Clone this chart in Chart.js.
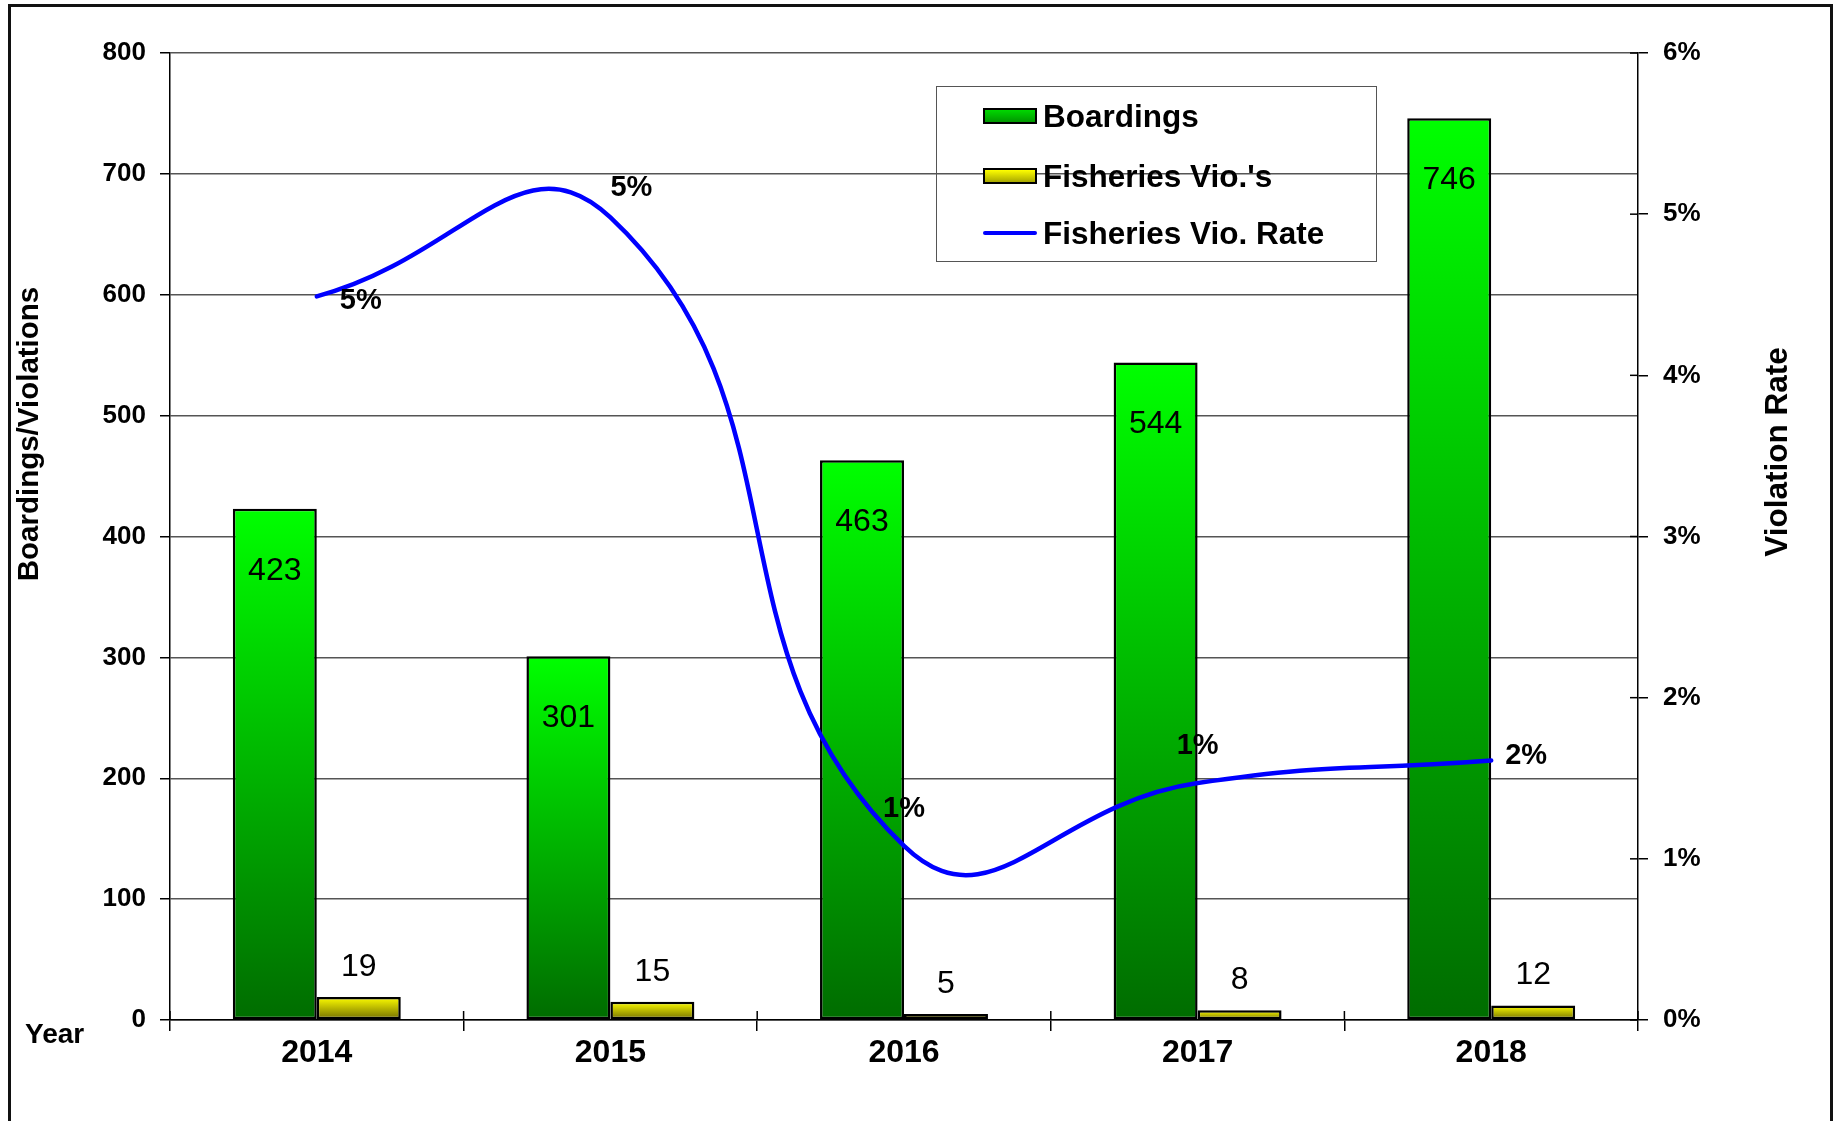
<!DOCTYPE html>
<html>
<head>
<meta charset="utf-8">
<script src="https://cdn.jsdelivr.net/npm/chart.js@4/dist/chart.umd.min.js"></script>
<style>
  html, body { margin:0; padding:0; background:#fff; overflow:hidden; }
  body { width:1833px; height:1121px; position:relative; font-family:"Liberation Sans", Arial, sans-serif; }
  #frame { position:absolute; left:8px; top:4px; width:1825px; height:1200px; border:3px solid #111; box-sizing:border-box; }
  #wrap { position:absolute; left:0; top:0; width:1833px; height:1121px; }
  #legend { position:absolute; left:936px; top:86px; width:441px; height:176px; border:1.5px solid #555; box-sizing:border-box; }
  .row { position:absolute; left:46px; height:34px; display:flex; align-items:center; }
  .mk { width:54px; height:16px; box-sizing:border-box; border:2px solid #000; margin-right:6px; }
  .ln { width:54px; height:4px; background:#0000ff; margin-right:6px; border-radius:2px; }
  .tx { font-weight:bold; font-size:31.5px; color:#000; white-space:nowrap; }
</style>
</head>
<body>
<div id="wrap"><canvas id="c" width="1833" height="1121"></canvas></div>
<div id="frame"></div>
<div id="legend">
  <div class="row" style="top:12px"><div class="mk" style="background:linear-gradient(#00d800,#009800)"></div><span class="tx">Boardings</span></div>
  <div class="row" style="top:72px"><div class="mk" style="background:linear-gradient(#ffff00,#a8a800)"></div><span class="tx">Fisheries Vio.'s</span></div>
  <div class="row" style="top:129px"><div class="ln"></div><span class="tx">Fisheries Vio. Rate</span></div>
</div>
<script>
const years = ['2014', '2015', '2016', '2017', '2018'];
const boardings = [423, 301, 463, 544, 746];
const violations = [19, 15, 5, 8, 12];
const rates = [4.49, 4.98, 1.08, 1.47, 1.61];
const rateLabels = ['5%', '5%', '1%', '1%', '2%'];
const leftMax = 800;
const leftStep = 100;
const rightMax = 6;
const rightStep = 1;

const FONT = '"Liberation Sans", Arial, sans-serif';

function barGrad(topColor, bottomColor) {
  return function(ctx) {
    const chart = ctx.chart;
    if (!chart.chartArea || ctx.type !== 'data' || !chart.scales.y) return topColor;
    const ys = chart.scales.y;
    const yTop = ys.getPixelForValue(ctx.parsed ? ctx.parsed.y : ctx.raw);
    const yBase = ys.getPixelForValue(0);
    if (!isFinite(yTop) || !isFinite(yBase) || yBase - yTop < 1) return topColor;
    const g = chart.ctx.createLinearGradient(0, yTop, 0, yBase);
    g.addColorStop(0, topColor);
    g.addColorStop(1, bottomColor);
    return g;
  };
}

const labelOffsets = [[44, 5], [21, -29], [0, -37], [0, -37], [35, -5]];

const overlay = {
  id: 'overlay',
  afterDraw(chart) {
    const c = chart.ctx;
    const xs = chart.scales.x, ys = chart.scales.y, y1 = chart.scales.y1;
    c.save();
    c.strokeStyle = '#000';
    c.lineWidth = 1.5;
    const n = years.length;
    for (let i = 0; i <= n; i++) {
      const px = xs.left + i * xs.width / n;
      c.beginPath(); c.moveTo(px, xs.top - 9); c.lineTo(px, xs.top); c.stroke();
    }
    for (let v = 0; v <= rightMax; v += rightStep) {
      const py = y1.getPixelForValue(v);
      c.beginPath(); c.moveTo(y1.left - 8, py); c.lineTo(y1.left, py); c.stroke();
    }
    c.fillStyle = '#000';
    c.textAlign = 'center';
    c.textBaseline = 'middle';
    c.font = '32px ' + FONT;
    const m0 = chart.getDatasetMeta(0), m1 = chart.getDatasetMeta(1), m2 = chart.getDatasetMeta(2);
    m0.data.forEach((el, i) => { c.fillText(String(boardings[i]), el.x, el.y + 62); });
    m1.data.forEach((el, i) => { c.fillText(String(violations[i]), el.x, el.y - 30); });
    c.font = 'bold 29px ' + FONT;
    m2.data.forEach((el, i) => { c.fillText(rateLabels[i], el.x + labelOffsets[i][0], el.y + labelOffsets[i][1]); });
    c.font = 'bold 29.5px ' + FONT;
    c.save(); c.translate(30, 434); c.rotate(-Math.PI / 2); c.fillText('Boardings/Violations', 0, 0); c.restore();
    c.font = 'bold 31.5px ' + FONT;
    c.save(); c.translate(1778, 452); c.rotate(-Math.PI / 2); c.fillText('Violation Rate', 0, 0); c.restore();
    c.font = 'bold 28px ' + FONT;
    c.textAlign = 'left';
    c.fillText('Year', 25, 1035);
    c.restore();
  }
};

new Chart(document.getElementById('c'), {
  type: 'bar',
  data: {
    labels: years,
    datasets: [
      {
        label: 'Boardings', data: boardings, yAxisID: 'y', order: 1,
        backgroundColor: barGrad('#00ff00', '#006c00'),
        borderColor: '#000', borderWidth: 2.5, borderSkipped: false,
        categoryPercentage: 0.572, barPercentage: 1
      },
      {
        label: "Fisheries Vio.'s", data: violations, yAxisID: 'y', order: 1,
        backgroundColor: barGrad('#ffff00', '#6e6a00'),
        borderColor: '#000', borderWidth: 2.5, borderSkipped: false,
        categoryPercentage: 0.572, barPercentage: 1
      },
      {
        type: 'line', label: 'Fisheries Vio. Rate', data: rates, yAxisID: 'y1', order: 0,
        borderColor: '#0000ff', borderWidth: 4.5, pointRadius: 0, tension: 0.5, fill: false,
        borderCapStyle: 'round'
      }
    ]
  },
  options: {
    responsive: false,
    animation: false,
    devicePixelRatio: 1,
    layout: { padding: { top: 53, left: 0, right: 0, bottom: 0 } },
    plugins: { legend: { display: false }, tooltip: { enabled: false } },
    scales: {
      x: {
        offset: true,
        grid: { offset: true, drawOnChartArea: false, drawTicks: true, tickLength: 11, color: '#000', lineWidth: 1.5 },
        border: { display: true, color: '#000', width: 1.5 },
        ticks: { color: '#000', font: { family: FONT, size: 32, weight: 'bold' }, padding: 3 },
        afterFit(s) { s.height = 101; }
      },
      y: {
        position: 'left', min: 0, max: leftMax,
        ticks: { stepSize: leftStep, color: '#000', font: { family: FONT, size: 26, weight: 'bold' }, padding: 14 },
        grid: { color: '#555', lineWidth: 1.5, tickLength: 10, tickColor: '#000' },
        border: { display: true, color: '#000', width: 1.5 },
        afterFit(s) { s.width = 170; }
      },
      y1: {
        position: 'right', min: 0, max: rightMax,
        ticks: { stepSize: rightStep, color: '#000', font: { family: FONT, size: 26, weight: 'bold' }, padding: 15,
          callback: v => v + '%' },
        grid: { drawOnChartArea: false, tickLength: 10, color: '#000', lineWidth: 1.5 },
        border: { display: true, color: '#000', width: 1.5 },
        afterFit(s) { s.width = 195; }
      }
    }
  },
  plugins: [overlay]
});
</script>
</body>
</html>
